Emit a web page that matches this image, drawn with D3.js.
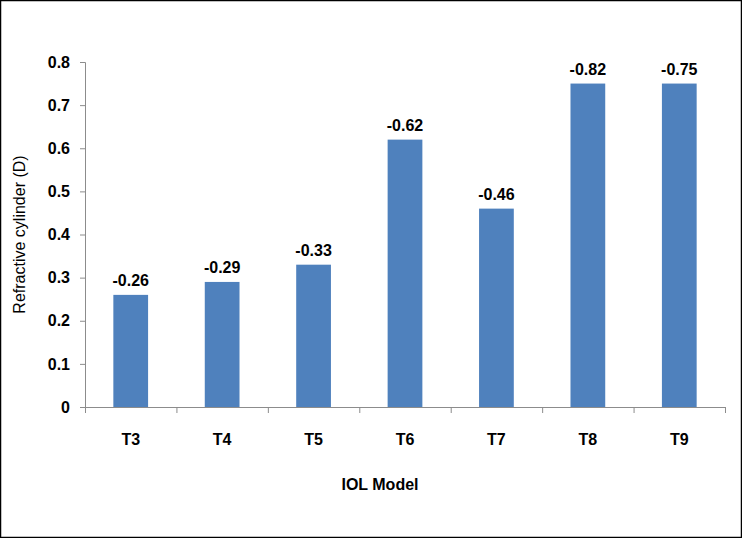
<!DOCTYPE html>
<html>
<head>
<meta charset="utf-8">
<script src="https://cdn.jsdelivr.net/npm/d3@7"></script>
<style>
  body { margin: 0; background: #fff; }
  svg { display: block; font-family: "Liberation Sans", Arial, sans-serif; }
</style>
</head>
<body>
<div id="chart"></div>
<script>
// data
var models = ["T3", "T4", "T5", "T6", "T7", "T8", "T9"];
var cylinder = [0.26, 0.29, 0.33, 0.62, 0.46, 0.75, 0.75];
var barLabels = ["-0.26", "-0.29", "-0.33", "-0.62", "-0.46", "-0.82", "-0.75"];
var yTicks = [0, 0.1, 0.2, 0.3, 0.4, 0.5, 0.6, 0.7, 0.8];

var width = 742, height = 538;
var margin = {top: 62, right: 17, bottom: 131, left: 85};

var svg = d3.select("#chart").append("svg")
    .attr("width", width)
    .attr("height", height);

// black frame round the picture
svg.append("rect")
    .attr("x", 0.5).attr("y", 0.5)
    .attr("width", width - 1).attr("height", height - 1)
    .attr("fill", "none").attr("stroke", "#000").attr("stroke-width", 1.5);

var x = d3.scaleBand()
    .domain(models)
    .range([margin.left, width - margin.right])
    .paddingInner(0.62)
    .paddingOuter(0.31);

var y = d3.scaleLinear()
    .domain([0, 0.8])
    .range([height - margin.bottom, margin.top]);

// y axis
var yAxis = svg.append("g")
    .attr("transform", "translate(" + margin.left + ",0)")
    .call(d3.axisLeft(y).tickValues(yTicks).tickSize(5).tickPadding(10)
        .tickFormat(function(d) { return d === 0 ? "0" : d3.format(".1f")(d); }));
yAxis.selectAll("line, path").attr("stroke", "#8c8c8c");
yAxis.selectAll("text")
    .attr("font-size", 16).attr("font-weight", "bold").attr("fill", "#000")
    .attr("font-family", "Liberation Sans, Arial, sans-serif");

// x axis: ticks between categories
var step = x.step();
var bounds = d3.range(models.length + 1).map(function(i) { return margin.left + i * step; });
var y0 = y(0);
svg.append("line")
    .attr("x1", margin.left).attr("x2", width - margin.right)
    .attr("y1", y0 + 0.5).attr("y2", y0 + 0.5)
    .attr("stroke", "#8c8c8c");
svg.selectAll("line.xtick")
    .data(bounds)
    .enter().append("line")
        .attr("class", "xtick")
        .attr("x1", d => d + 0.5).attr("x2", d => d + 0.5)
        .attr("y1", y0).attr("y2", y0 + 6)
        .attr("stroke", "#8c8c8c");

svg.selectAll("text.xlab")
    .data(models)
    .enter().append("text")
        .attr("class", "xlab")
        .attr("x", d => x(d) + x.bandwidth() / 2)
        .attr("y", y0 + 38)
        .attr("text-anchor", "middle")
        .attr("font-size", 16).attr("font-weight", "bold")
        .text(d => d);

// bars
svg.selectAll("rect.bar")
    .data(cylinder)
    .enter().append("rect")
        .attr("class", "bar")
        .attr("x", (d, i) => x(models[i]))
        .attr("y", d => y(d))
        .attr("width", x.bandwidth())
        .attr("height", d => y0 - y(d))
        .attr("fill", "#4f81bd");

// value labels above bars
svg.selectAll("text.val")
    .data(cylinder)
    .enter().append("text")
        .attr("class", "val")
        .attr("x", (d, i) => x(models[i]) + x.bandwidth() / 2)
        .attr("y", d => y(d) - 9)
        .attr("text-anchor", "middle")
        .attr("font-size", 16).attr("font-weight", "bold")
        .text((d, i) => barLabels[i]);

// axis titles
svg.append("text")
    .attr("transform", "translate(25," + (margin.top + (y0 - margin.top) / 2) + ") rotate(-90)")
    .attr("text-anchor", "middle")
    .attr("font-size", 16)
    .text("Refractive cylinder (D)");

svg.append("text")
    .attr("x", 380)
    .attr("y", 490)
    .attr("text-anchor", "middle")
    .attr("font-size", 16).attr("font-weight", "bold")
    .text("IOL Model");
</script>
</body>
</html>
